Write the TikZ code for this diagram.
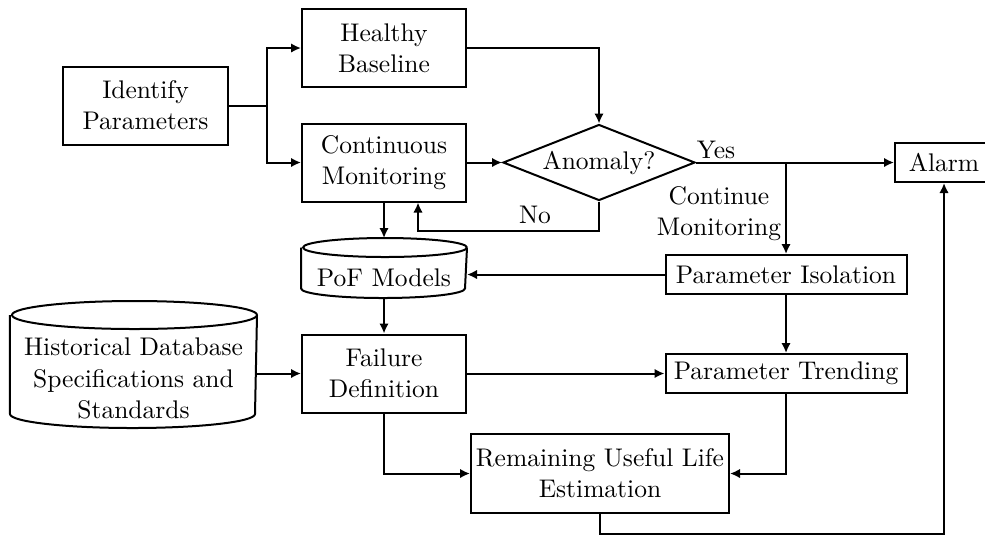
\documentclass[tikz,border=0pt]{standalone}
\usetikzlibrary{arrows.meta,shapes.geometric,calc}
\begin{document}
\begin{tikzpicture}[x=0.4pt,y=-0.4pt, line width=0.8pt,
  font=\fontsize{10.2}{12.5}\selectfont,
  box/.style={draw, rectangle, align=center, inner sep=0pt, minimum width=65.6pt, minimum height=31.2pt},
  cyl/.style={rectangle, draw=none, inner sep=0pt, minimum width=65.6pt},
  arr/.style={-{Latex[length=4pt,width=3.8pt]}}]
\useasboundingbox (0,0) rectangle (985,535);
% nodes
\node[box] (idp) at (145.5,105.5) {Identify\\Parameters};
\node[box] (hb) at (384,48) {Healthy\\Baseline};
\node[box] (cm) at (384,162.5) {Continuous\\Monitoring};
\node[draw,diamond,aspect=2.5,inner sep=0pt,minimum width=76.8pt,minimum height=30.4pt] (an) at (599,162.5) {Anomaly?};
\node[box, minimum width=39.2pt, minimum height=15.6pt] (al) at (944,162.5) {Alarm};
\node[cyl, minimum height=23.2pt, label={[yshift=-3.8pt]center:PoF Models}] (pof) at (384,268) {};
\node[box, minimum width=96.4pt, minimum height=15.6pt] (pi) at (786,274.5) {Parameter Isolation};
\node[cyl, minimum width=98pt, minimum height=50pt, label={[align=center,yshift=-5.6pt]center:{Historical Database\\Specifications and\\Standards}}] (hist) at (133.5,364.5) {};
\node[box] (fd) at (384,373.5) {Failure\\Definition};
\node[box, minimum width=96.4pt, minimum height=15.6pt] (pt) at (786,373.5) {Parameter Trending};
\node[box, minimum width=103.2pt, minimum height=31.6pt] (rul) at (600,473.5) {Remaining Useful Life\\Estimation};
% cylinder outlines
\draw ([yshift=-3.8pt]pof.north east) arc[start angle=0,end angle=360,x radius=32.8pt,y radius=3.8pt];
\draw ([yshift=-3.8pt]pof.north west) -- ([yshift=3.8pt]pof.south west) arc[start angle=180,end angle=360,x radius=32.8pt,y radius=3.8pt] -- ([yshift=-3.8pt]pof.north east);
\draw ([yshift=-5.6pt]hist.north east) arc[start angle=0,end angle=360,x radius=49pt,y radius=5.6pt];
\draw ([yshift=-5.6pt]hist.north west) -- ([yshift=5.6pt]hist.south west) arc[start angle=180,end angle=360,x radius=49pt,y radius=5.6pt] -- ([yshift=-5.6pt]hist.north east);
% labels
\node (no) at (535,215) {No};
\node (yes) at (716,149.5) {Yes};
\node[align=center] (cmlab) at (719,214) {Continue\\Monitoring};
% connectors
\draw[arr] (idp.east) -- ++(38,0) coordinate (sp) |- (hb.west);
\draw[arr] (sp) |- (cm.west);
\draw[arr] (hb.east) -| (an.north);
\draw[arr] (cm.east) -- (an.west);
\draw[arr] (an.south) -- ++(0,29) -| ([xshift=13.6pt]cm.south);
\draw[arr] (an.east) -- (al.west);
\draw[arr] (an.east -| pi.north) -- (pi.north);
\draw[arr] (cm.south) -- (pof.north);
\draw[arr] (pi.west) -- (pi.west -| pof.east);
\draw[arr] (pof.south) -- (fd.north);
\draw[arr] (pi.south) -- (pt.north);
\draw[arr] (fd.west -| hist.east) -- (fd.west);
\draw[arr] (fd.east) -- (pt.west);
\draw[arr] (fd.south) |- (rul.west);
\draw[arr] (pt.south) |- (rul.east);
\draw[arr] (rul.south) -- ++(0,20) -| (al.south);
\end{tikzpicture}
\end{document}
